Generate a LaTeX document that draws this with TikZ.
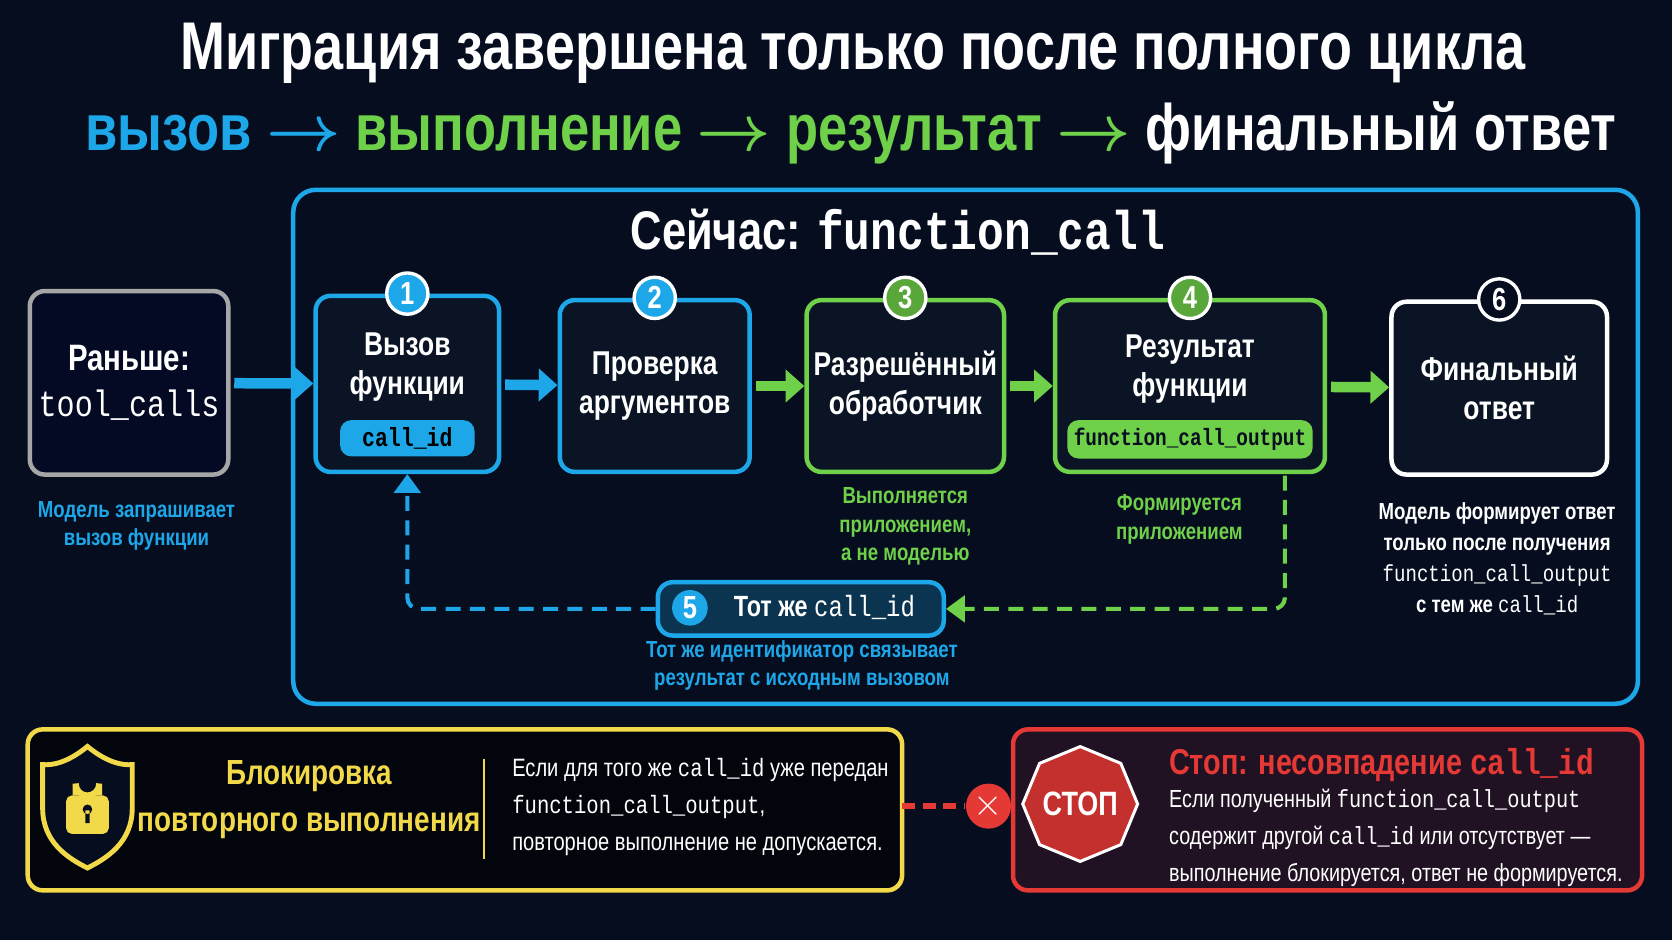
\documentclass[tikz,border=0pt]{standalone}
\usepackage{fontspec}
\setmainfont{Liberation Sans}[FakeStretch=0.8]
\setmonofont{Liberation Mono}[FakeStretch=0.82]
\usetikzlibrary{positioning,shapes.geometric,arrows.meta}
\definecolor{bg}{HTML}{050D1F}
\definecolor{cblue}{HTML}{1EA7E8}
\definecolor{cgreen}{HTML}{6FD04A}
\definecolor{cyel}{HTML}{F2D94A}
\definecolor{cred}{HTML}{E53935}
\definecolor{boxfill}{HTML}{0A1424}
\tikzset{
  step/.style={draw=#1, line width=1.2pt, rounded corners=4pt, fill=boxfill, text=white,
    font=\bfseries\fontsize{8.8}{10.5}\selectfont, align=center, inner sep=0pt},
  num/.style={circle, draw=white, line width=0.9pt, fill=#1, text=white, minimum size=11pt,
    inner sep=0pt, font=\bfseries\fontsize{8.5}{8.5}\selectfont},
  flow/.style={-{Triangle[length=5pt,width=8.5pt]}, line width=2.8pt, draw=#1, shorten <=1pt},
  pill/.style={rounded corners=3pt, fill=#1, inner sep=0pt, font=\ttfamily\bfseries\fontsize{7}{7}\selectfont},
  note/.style={font=\bfseries\fontsize{6.2}{7.6}\selectfont, align=center, text=#1},
  back/.style={dashed, dash pattern=on 4pt off 2.5pt, line width=1.1pt, draw=#1, rounded corners=3pt,
    -{Triangle[length=5pt,width=7pt]}},
}
\begin{document}
\begin{tikzpicture}[x=0.01cm, y=-0.01cm]
  \fill[bg] (0,0) rectangle (1568,882);
  \useasboundingbox (0,0) rectangle (1568,882);

  % Заголовок
  \node[text=white, font=\bfseries\fontsize{18}{18}\selectfont] (title) at (800,50)
    {Миграция завершена только после полного цикла};
  \node[font=\bfseries\boldmath\fontsize{17.5}{17.5}\selectfont] (sub) at (798,125)
    {\textcolor{cblue}{вызов $\rightarrow$} \textcolor{cgreen}{выполнение $\rightarrow$ результат $\rightarrow$} \textcolor{white}{финальный ответ}};

  % Рамка "Сейчас"
  \draw[cblue, line width=1.2pt, rounded corners=6pt] (275,178) rectangle (1536,660);
  \node[text=white, font=\bfseries\fontsize{14.5}{14.5}\selectfont] (now) at (842,218)
    {Сейчас: {\ttfamily function\_call}};

  % Шаги
  \node[step=gray!70, fill=black!80!blue!20!bg, minimum width=18.6mm, minimum height=17.2mm,
    font=\bfseries\fontsize{9.8}{12.5}\selectfont] (old) at (121,359) {Раньше:\\{\ttfamily\mdseries tool\_calls}};
  \node[step=cblue, minimum width=17.2mm, minimum height=16.5mm] (s1) at (382,360) {};
  \node[text=white, font=\bfseries\fontsize{8.8}{10.5}\selectfont, align=center] (s1t) at (382,344) {Вызов\\функции};
  \node[pill=cblue, minimum width=12.6mm, minimum height=3.4mm] (cid) at (382,411) {call\_id};
  \node[step=cblue, minimum width=17.8mm, minimum height=16.1mm] (s2) at (614,362) {Проверка\\аргументов};
  \node[step=cgreen, minimum width=18.5mm, minimum height=16.1mm] (s3) at (849,362) {Разрешённый\\обработчик};
  \node[step=cgreen, minimum width=25.3mm, minimum height=16.1mm] (s4) at (1116,362) {};
  \node[text=white, font=\bfseries\fontsize{8.8}{10.5}\selectfont, align=center] (s4t) at (1116,346) {Результат\\функции};
  \node[pill=cgreen, text=bg, minimum width=23mm, minimum height=3.6mm,
    font=\ttfamily\bfseries\fontsize{6.3}{6.3}\selectfont] (fco) at (1116,412) {function\_call\_output};
  \node[step=white, minimum width=20.2mm, minimum height=16.2mm] (s6) at (1406,364) {Финальный\\ответ};

  \node[num=cblue] (n1) at (s1.north) {1};
  \node[num=cblue] (n2) at (s2.north) {2};
  \node[num=cgreen!80!black] (n3) at (s3.north) {3};
  \node[num=cgreen!80!black] (n4) at (s4.north) {4};
  \node[num=bg] (n6) at (s6.north) {6};

  \draw[flow=cblue] (old) -- (s1);
  \draw[flow=cblue] (s1) -- (s2);
  \draw[flow=cgreen] (s2) -- (s3);
  \draw[flow=cgreen] (s3) -- (s4);
  \draw[flow=cgreen] (s4) -- (s6);

  % Подписи
  \node[note=cblue] (c0) at (128,493) {Модель запрашивает\\вызов функции};
  \node[note=cgreen] (c3) at (849,494) {Выполняется\\приложением,\\а не моделью};
  \node[note=cgreen] (c4) at (1106,487) {Формируется\\приложением};
  \node[note=white, font=\bfseries\fontsize{6.2}{8.2}\selectfont] (c6) at (1404,524)
    {Модель формирует ответ\\только после получения\\{\ttfamily\mdseries function\_call\_output}\\с тем же {\ttfamily\mdseries call\_id}};

  % Шаг 5
  \node[step=cblue, fill=cblue!25!bg, minimum width=26.8mm, minimum height=5mm] (s5) at (751,571) {};
  \node[num=cblue, draw=none, minimum size=9.5pt] (n5) at (647,570) {5};
  \node[text=white, font=\bfseries\fontsize{7.8}{7.8}\selectfont, right=3pt of n5] (s5t)
    {Тот же {\ttfamily\mdseries call\_id}};
  \node[note=cblue] (c5) at (752,624) {Тот же идентификатор связывает\\результат с исходным вызовом};
  \coordinate (g1) at (1205,446);
  \draw[back=cgreen] (g1) |- (s5.east);
  \draw[back=cblue] (s5.west) -| (s1.south);

  % Блокировка
  \draw[cyel, line width=1.2pt, rounded corners=4pt, fill=black!60!bg] (26,684) rectangle (846,835);
  \draw[cyel, line width=1.3pt, fill=bg] (82,700) .. controls (100,715) and (115,718) .. (124,717)
    -- (124,758) .. controls (124,790) and (100,805) .. (82,814)
    .. controls (64,805) and (40,790) .. (40,758) -- (40,717)
    .. controls (49,718) and (64,715) .. (82,700) -- cycle;
  \draw[cyel, line width=1.6pt] (71,746) -- (71,735) arc (180:0:11) -- (93,746);
  \fill[cyel, rounded corners=1.5pt] (62,746) rectangle (102,782);
  \fill[bg] (82,759) circle (4.5) (80,760) rectangle (84,772);
  \node[text=cyel, font=\bfseries\fontsize{9.3}{12.5}\selectfont, align=center] (lock) at (290,750)
    {Блокировка\\повторного выполнения};
  \draw[cyel, line width=0.6pt] (454,712) -- (454,806);
  \node[text=white, font=\fontsize{6.7}{9.8}\selectfont, align=left, anchor=west] (locktxt) at (468,757)
    {Если для того же {\ttfamily call\_id} уже передан\\{\ttfamily function\_call\_output},\\повторное выполнение не допускается.};

  % Стоп
  \draw[cred, line width=1.2pt, rounded corners=4pt, fill=cred!12!bg] (950,684) rectangle (1540,835);
  \node[regular polygon, regular polygon sides=8, shape border rotate=22.5, minimum size=10mm,
    fill=cred!85!black, draw=white, line width=0.8pt, text=white, inner sep=0pt,
    font=\bfseries\fontsize{9}{9}\selectfont] (stop) at (1013,754) {СТОП};
  \node[text=cred, font=\bfseries\fontsize{9.6}{9.6}\selectfont, anchor=west] (stoph) at (1084,717)
    {Стоп: несовпадение {\ttfamily call\_id}};
  \node[text=white, font=\fontsize{6.6}{9.8}\selectfont, align=left, anchor=west] (stoptxt) at (1084,786)
    {Если полученный {\ttfamily function\_call\_output}\\содержит другой {\ttfamily call\_id} или отсутствует —\\выполнение блокируется, ответ не формируется.};
  \node[circle, fill=cred, minimum size=12pt, inner sep=0pt, text=white,
    font=\bfseries\fontsize{10}{10}\selectfont] (x) at (927,756) {$\times$};
  \draw[cred, line width=1.6pt, dash pattern=on 3.5pt off 2pt] (846,756) -- (x);
\end{tikzpicture}
\end{document}
